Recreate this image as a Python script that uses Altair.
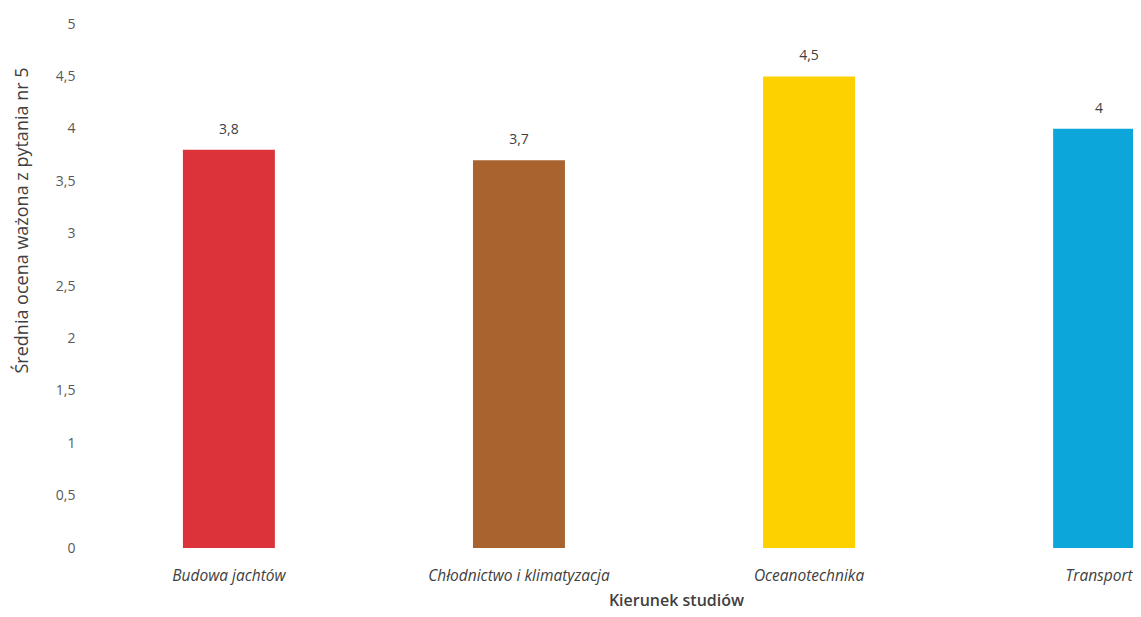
import altair as alt
import pandas as pd

categories = ["Budowa jachtów", "Chłodnictwo i klimatyzacja", "Oceanotechnika", "Transport"]
values = [3.8, 3.7, 4.5, 4.0]
colors = ["#DC323A", "#A8632F", "#FDD000", "#0CA6DA"]

df = pd.DataFrame({"kierunek": categories, "ocena": values})

W = 1049
H = 524
xscale = alt.Scale(range=[0, 1160], paddingInner=0.683, paddingOuter=0.341)

x_enc = alt.X(
    "kierunek:N",
    sort=categories,
    scale=xscale,
    axis=alt.Axis(
        title="Kierunek studiów",
        labelAngle=0,
        labelFont="Open Sans",
        labelFontSize=15.5,
        labelFontStyle="italic",
        labelColor="#404040",
        labelPadding=20,
        labelLimit=400,
        ticks=False,
        domain=False,
        titleFont="Open Sans",
        titleFontSize=16,
        titleFontWeight=600,
        titleColor="#404040",
        titleX=592,
        titlePadding=9,
    ),
)

bars = alt.Chart(df).mark_bar(clip=True).encode(
    x=x_enc,
    y=alt.Y(
        "ocena:Q",
        scale=alt.Scale(domain=[0, 5]),
        axis=alt.Axis(
            title="Średnia ocena ważona z pytania nr 5",
            values=[0, 0.5, 1, 1.5, 2, 2.5, 3, 3.5, 4, 4.5, 5],
            labelExpr="replace(toString(datum.value), '.', ',')",
            grid=False,
            ticks=False,
            domain=False,
            labelFont="Open Sans",
            labelFontSize=14,
            labelColor="#595959",
            labelPadding=9,
            titleFont="Open Sans",
            titleFontSize=18,
            titleFontWeight="normal",
            titleColor="#404040",
            titleX=-62,
            titleY=196,
            titleBaseline="middle",
        ),
    ),
    color=alt.Color("kierunek:N", scale=alt.Scale(domain=categories, range=colors), legend=None),
)

text = alt.Chart(df).transform_calculate(
    lbl="replace(toString(datum.ocena), '.', ',')"
).mark_text(
    baseline="middle", dy=-20, font="Open Sans", fontSize=14, color="#404040"
).encode(
    x=alt.X("kierunek:N", sort=categories, scale=xscale),
    y="ocena:Q",
    text="lbl:N",
)

chart = (bars + text).properties(
    width=W,
    height=H,
    background="white",
    autosize=alt.AutoSizeParams(type="none"),
    padding={"left": 76, "top": 16, "right": 0, "bottom": 62},
).configure_view(stroke="transparent", strokeWidth=0)

chart.save("out.html", embed_options={"renderer": "svg", "actions": False})
